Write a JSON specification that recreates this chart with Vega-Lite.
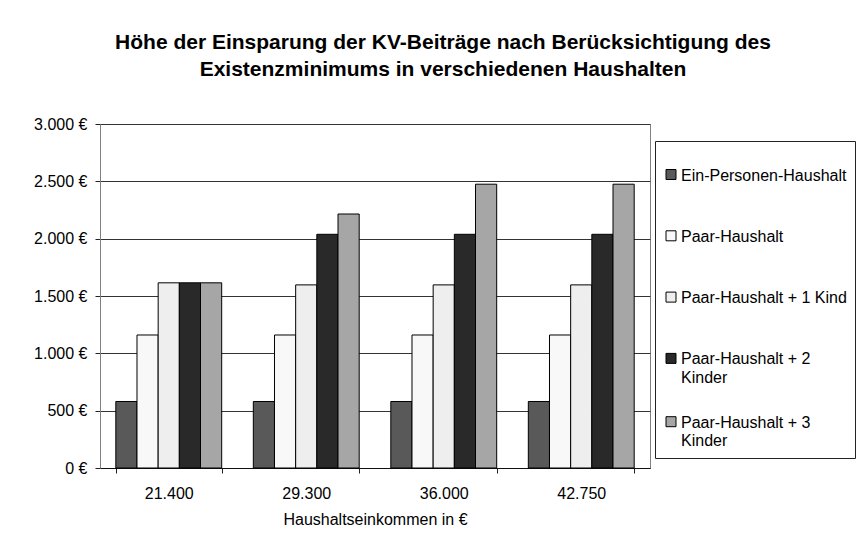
{
  "$schema": "https://vega.github.io/schema/vega-lite/v6.json",
  "width": 550,
  "height": 344,
  "autosize": {"type": "none"},
  "padding": {"left": 100, "top": 124, "right": 213, "bottom": 72},
  "background": "white",
  "title": {
    "text": ["Höhe der Einsparung der KV-Beiträge nach Berücksichtigung des", "Existenzminimums in verschiedenen Haushalten"],
    "font": "Liberation Sans",
    "fontSize": 21,
    "fontWeight": "bold",
    "color": "black",
    "lineHeight": 27,
    "anchor": "middle",
    "dx": 68,
    "offset": 36
  },
  "data": {
    "values": [
      {"einkommen": "21.400", "haushalt": "Ein-Personen-Haushalt", "wert": 580},
      {"einkommen": "21.400", "haushalt": "Paar-Haushalt", "wert": 1160},
      {"einkommen": "21.400", "haushalt": "Paar-Haushalt + 1 Kind", "wert": 1615},
      {"einkommen": "21.400", "haushalt": "Paar-Haushalt + 2 Kinder", "wert": 1615},
      {"einkommen": "21.400", "haushalt": "Paar-Haushalt + 3 Kinder", "wert": 1615},
      {"einkommen": "29.300", "haushalt": "Ein-Personen-Haushalt", "wert": 580},
      {"einkommen": "29.300", "haushalt": "Paar-Haushalt", "wert": 1160},
      {"einkommen": "29.300", "haushalt": "Paar-Haushalt + 1 Kind", "wert": 1597},
      {"einkommen": "29.300", "haushalt": "Paar-Haushalt + 2 Kinder", "wert": 2038},
      {"einkommen": "29.300", "haushalt": "Paar-Haushalt + 3 Kinder", "wert": 2215},
      {"einkommen": "36.000", "haushalt": "Ein-Personen-Haushalt", "wert": 580},
      {"einkommen": "36.000", "haushalt": "Paar-Haushalt", "wert": 1160},
      {"einkommen": "36.000", "haushalt": "Paar-Haushalt + 1 Kind", "wert": 1597},
      {"einkommen": "36.000", "haushalt": "Paar-Haushalt + 2 Kinder", "wert": 2038},
      {"einkommen": "36.000", "haushalt": "Paar-Haushalt + 3 Kinder", "wert": 2475},
      {"einkommen": "42.750", "haushalt": "Ein-Personen-Haushalt", "wert": 580},
      {"einkommen": "42.750", "haushalt": "Paar-Haushalt", "wert": 1160},
      {"einkommen": "42.750", "haushalt": "Paar-Haushalt + 1 Kind", "wert": 1597},
      {"einkommen": "42.750", "haushalt": "Paar-Haushalt + 2 Kinder", "wert": 2038},
      {"einkommen": "42.750", "haushalt": "Paar-Haushalt + 3 Kinder", "wert": 2475}
    ]
  },
  "mark": {"type": "bar", "stroke": "black", "strokeWidth": 1},
  "encoding": {
    "x": {
      "field": "einkommen",
      "type": "nominal",
      "sort": ["21.400", "29.300", "36.000", "42.750"],
      "scale": {"paddingInner": 0.23, "paddingOuter": 0.115},
      "axis": {
        "title": "Haushaltseinkommen in €",
        "labelAngle": 0,
        "tickBand": "extent",
        "tickSize": 5,
        "tickColor": "#222222",
        "domainColor": "#111111",
        "labelPadding": 12,
        "titlePadding": 10,
        "grid": false
      }
    },
    "xOffset": {
      "field": "haushalt",
      "type": "nominal",
      "sort": ["Ein-Personen-Haushalt", "Paar-Haushalt", "Paar-Haushalt + 1 Kind", "Paar-Haushalt + 2 Kinder", "Paar-Haushalt + 3 Kinder"],
      "scale": {"paddingInner": 0, "paddingOuter": 0}
    },
    "y": {
      "field": "wert",
      "type": "quantitative",
      "scale": {"domain": [0, 3000], "nice": false},
      "axis": {
        "title": null,
        "values": [0, 500, 1000, 1500, 2000, 2500, 3000],
        "labelExpr": "replace(format(datum.value, ','), ',', '.') + ' €'",
        "tickSize": 5,
        "tickColor": "#222222",
        "domainColor": "#808080",
        "labelPadding": 8,
        "grid": true,
        "gridColor": "#333333",
        "gridOpacity": 1
      }
    },
    "fill": {
      "field": "haushalt",
      "type": "nominal",
      "sort": ["Ein-Personen-Haushalt", "Paar-Haushalt", "Paar-Haushalt + 1 Kind", "Paar-Haushalt + 2 Kinder", "Paar-Haushalt + 3 Kinder"],
      "scale": {
        "domain": ["Ein-Personen-Haushalt", "Paar-Haushalt", "Paar-Haushalt + 1 Kind", "Paar-Haushalt + 2 Kinder", "Paar-Haushalt + 3 Kinder"],
        "range": ["#595959", "#f8f8f8", "#eeeeee", "#292929", "#a6a6a6"]
      },
      "legend": {
        "title": null,
        "orient": "none",
        "legendX": 555,
        "legendY": 17,
        "padding": 8,
        "strokeColor": "#222222",
        "fillColor": "white",
        "symbolType": "square",
        "symbolSize": 100,
        "symbolStrokeColor": "black",
        "symbolStrokeWidth": 1,
        "labelOffset": 2,
        "labelBaseline": "alphabetic",
        "labelExpr": "datum.label == 'Paar-Haushalt + 2 Kinder' ? ['Paar-Haushalt + 2', 'Kinder'] : datum.label == 'Paar-Haushalt + 3 Kinder' ? ['Paar-Haushalt + 3', 'Kinder'] : datum.label",
        "labelLimit": 300,
        "clipHeight": 51,
        "rowPadding": 10.3,
        "encode": {
          "labels": {"update": {"dy": {"value": 6}, "lineHeight": {"value": 18.5}}}
        }
      }
    }
  },
  "config": {
    "font": "Liberation Sans",
    "view": {"stroke": "#808080", "strokeWidth": 1},
    "axis": {
      "labelFont": "Liberation Sans",
      "labelFontSize": 16,
      "labelColor": "black",
      "titleFont": "Liberation Sans",
      "titleFontSize": 16,
      "titleFontWeight": "normal",
      "titleColor": "black"
    },
    "legend": {
      "labelFont": "Liberation Sans",
      "labelFontSize": 16,
      "labelColor": "black"
    }
  }
}
